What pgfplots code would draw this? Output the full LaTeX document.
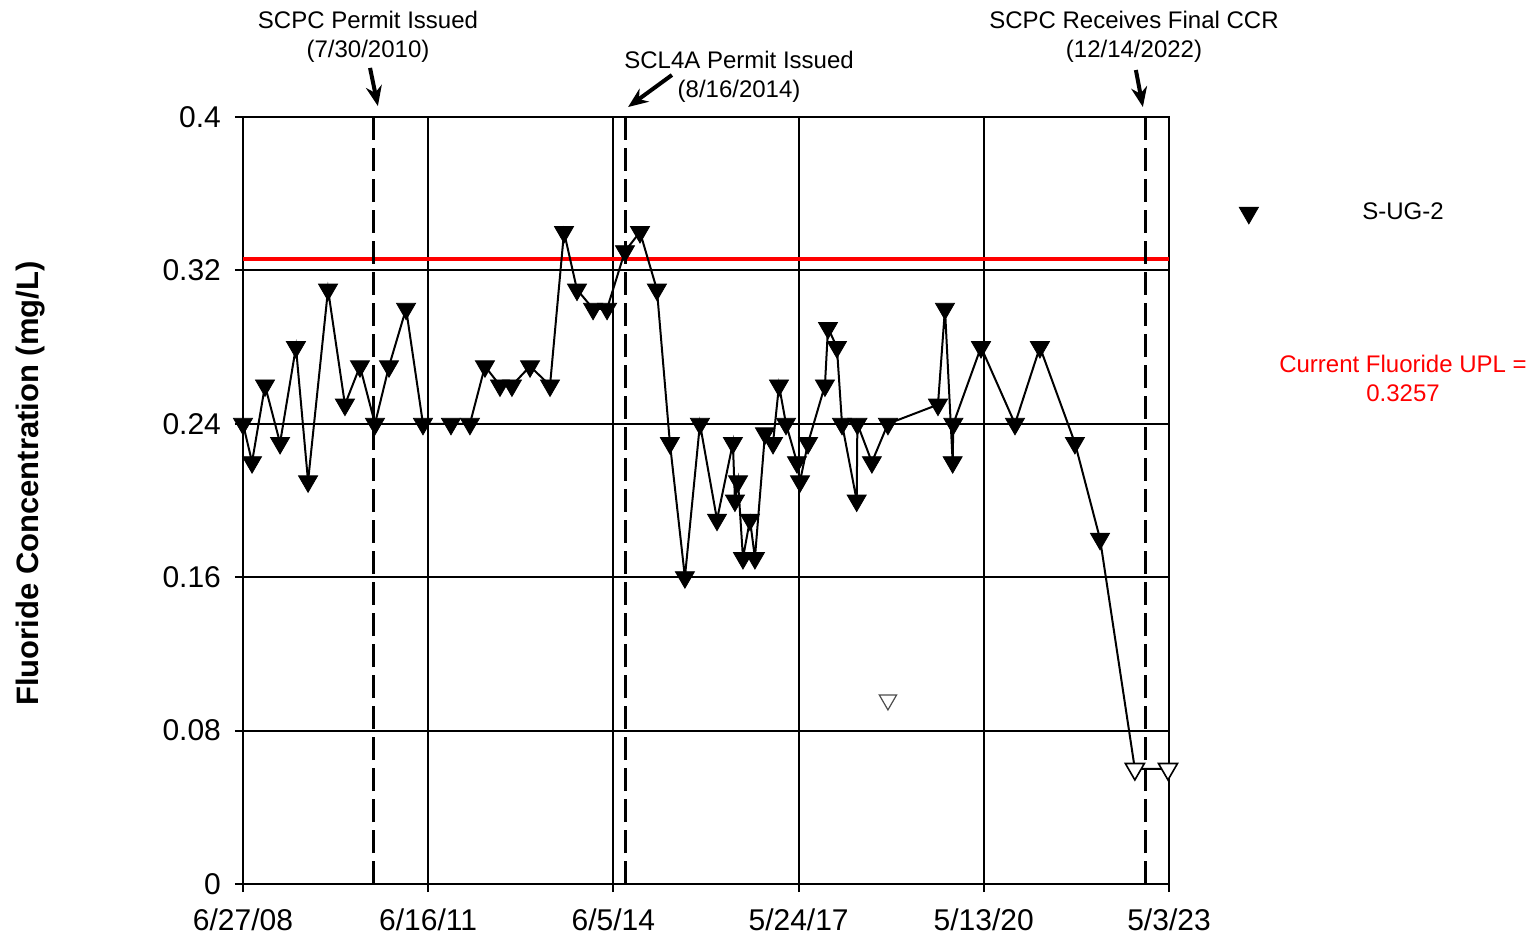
\documentclass[border=0pt]{standalone}
\usepackage{fontspec}
\setmainfont{Liberation Sans}
\usepackage{pgfplots}
\pgfplotsset{compat=1.18}
\usepackage{pgfplotstable}
\usetikzlibrary{arrows.meta}

\pgfplotstableread{
x y
0 0.24
53 0.22
129 0.26
217 0.23
310 0.28
381 0.21
498 0.31
597 0.25
685 0.27
773 0.24
855 0.27
955 0.30
1054 0.24
1218 0.24
1329 0.24
1417 0.27
1505 0.26
1575 0.26
1681 0.27
1798 0.26
1880 0.34
1956 0.31
2050 0.30
2132 0.30
2237 0.33
2325 0.34
2424 0.31
2500 0.23
2588 0.16
2676 0.24
2776 0.19
2869 0.23
2881 0.20
2899 0.21
2928 0.17
2969 0.19
2998 0.17
3057 0.235
3104 0.23
3139 0.26
3180 0.24
3244 0.22
3262 0.21
3309 0.23
3408 0.26
3426 0.29
3478 0.28
3508 0.24
3594 0.20
3598 0.24
3683 0.22
3777 0.24
4070 0.25
4111 0.30
4156 0.22
4160 0.24
4322 0.28
4521 0.24
4667 0.28
4872 0.23
5019 0.18
}\detects

\pgfplotstableread{
x y
5223 0.06
5417 0.06
}\nondetects

\pgfplotstableread{
x y
5019 0.18
5223 0.06
5417 0.06
}\tailline

\pgfplotstableread{
x y
3777 0.096
}\isolated

\begin{document}
\begin{tikzpicture}
\useasboundingbox (-121.5pt,-27pt) rectangle (644.5pt,442pt);
\begin{axis}[
  at={(0,0)}, anchor=south west,
  scale only axis, width=463pt, height=383.5pt,
  xmin=0, xmax=5423, ymin=0, ymax=0.4,
  clip=false,
  axis line style={black, line width=1pt},
  xmajorgrids, ymajorgrids,
  major grid style={black, line width=1pt},
  xtick={0,1084,2169,3254,4338,5423},
  xticklabels={6/27/08,6/16/11,6/5/14,5/24/17,5/13/20,5/3/23},
  ytick={0,0.08,0.16,0.24,0.32,0.4},
  yticklabels={0,0.08,0.16,0.24,0.32,0.4},
  /pgf/number format/assume math mode=true,
  tick align=outside, xtick pos=bottom, ytick pos=left,
  major tick length=4pt,
  tick style={black, line width=1pt},
  ticklabel style={font=\fontsize{15}{16}\selectfont},
  yticklabel style={xshift=-3.5pt},
  xticklabel style={yshift=-5pt},
  ylabel={\bfseries Fluoride Concentration (mg/L)},
  ylabel style={font=\fontsize{15.5}{18}\selectfont, at={(axis description cs:-0.2295,0.522)}, anchor=center},
  legend style={draw=none, fill=none, at={(rel axis cs:1.0755,0.875)}, anchor=west,
    font=\fontsize{12}{14}\selectfont, column sep=50pt, inner sep=0pt},
  legend cell align=left,
]
\addlegendimage{only marks, mark=triangle*, mark size=5.5pt, mark options={rotate=180, fill=black, draw=black}}
\addlegendentry{S-UG-2}

% UPL line
\addplot[red, line width=2pt, forget plot] coordinates {(0,0.3257) (5423,0.3257)};

% event lines
\addplot[black, line width=1.5pt, dash pattern=on 11.5pt off 4pt, forget plot] coordinates {(763,0) (763,0.4)};
\addplot[black, line width=1.5pt, dash pattern=on 11.5pt off 4pt, forget plot] coordinates {(2241,0) (2241,0.4)};
\addplot[black, line width=1.5pt, dash pattern=on 11.5pt off 4pt, forget plot] coordinates {(5283,0) (5283,0.4)};

% connecting line
\addplot[black, line width=1pt, forget plot] table {\detects};
\addplot[black, line width=1pt, forget plot] table {\tailline};

% markers
\addplot[only marks, mark=triangle*, mark size=5.5pt, mark options={rotate=180, fill=black, draw=black}, forget plot] table {\detects};
\addplot[only marks, mark=triangle*, mark size=5.5pt, mark options={rotate=180, fill=white, draw=black, line width=0.8pt}, forget plot] table {\nondetects};
\addplot[only marks, mark=triangle*, mark size=5pt, mark options={rotate=180, fill=white, draw=black!70, line width=0.6pt}, forget plot] table {\isolated};

% annotations
\node[align=center, font=\fontsize{12}{14.5}\selectfont] at (axis cs:732,0.4420) {SCPC Permit Issued\\(7/30/2010)};
\draw[line width=2pt, -{Stealth[length=10pt,width=8pt]}] (axis cs:744,0.4256) -- (axis cs:790,0.4057);

\node[align=center, font=\fontsize{12}{14.5}\selectfont] at (axis cs:2905,0.4212) {SCL4A Permit Issued\\(8/16/2014)};
\draw[line width=2pt, -{Stealth[length=10pt,width=8pt]}] (axis cs:2512,0.4219) -- (axis cs:2255,0.4052);

\node[align=center, font=\fontsize{12}{14.5}\selectfont] at (axis cs:5218,0.4420) {SCPC Receives Final CCR\\(12/14/2022)};
\draw[line width=2pt, -{Stealth[length=10pt,width=8pt]}] (axis cs:5229,0.4245) -- (axis cs:5270,0.4052);

\node[align=center, text=red, font=\fontsize{12}{14.5}\selectfont] at (rel axis cs:1.2527,0.659) {Current Fluoride UPL =\\0.3257};
\end{axis}
\end{tikzpicture}
\end{document}
